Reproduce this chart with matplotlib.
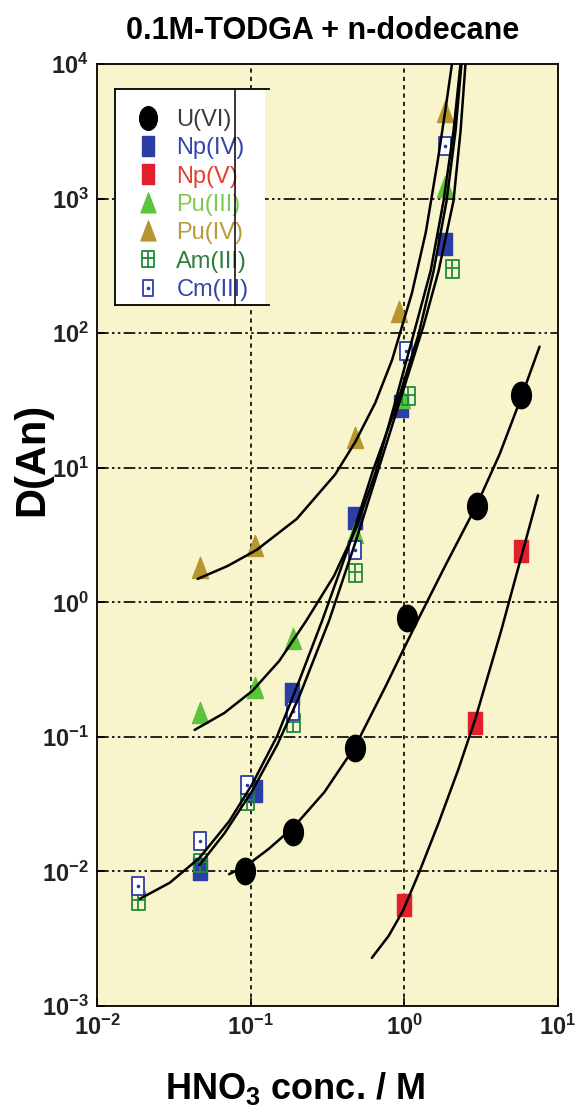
import numpy as np
import matplotlib
matplotlib.use("Agg")
from matplotlib import pyplot as plt
from matplotlib.path import Path
from matplotlib.patches import Rectangle
from matplotlib.transforms import Affine2D
from matplotlib.lines import Line2D

plt.rcParams['font.family'] = ['Liberation Sans', 'DejaVu Sans']
plt.rcParams['mathtext.default'] = 'regular'

# distribution ratios vs. nitric acid concentration
u6_x = [0.092, 0.19, 0.48, 1.04, 2.95, 5.77]
u6_y = [0.0101, 0.0197, 0.083, 0.77, 5.2, 35]
np4_x = [0.0466, 0.107, 0.186, 0.48, 0.95, 1.85]
np4_y = [0.0104, 0.0397, 0.21, 4.2, 28.8, 460]
np5_x = [1.0, 2.9, 5.77]
np5_y = [0.0056, 0.127, 2.4]
pu3_x = [0.0466, 0.106, 0.19, 0.48, 0.965, 1.85]
pu3_y = [0.15, 0.23, 0.53, 3.3, 33, 1220]
pu4_x = [0.0466, 0.106, 0.48, 0.92, 1.85]
pu4_y = [1.8, 2.6, 16.6, 144, 4400]
am3_x = [0.0185, 0.0466, 0.094, 0.189, 0.48, 1.05, 2.03]
am3_y = [0.00605, 0.0116, 0.0335, 0.127, 1.65, 34, 300]
cm3_x = [0.0185, 0.0466, 0.094, 0.189, 0.48, 1.02, 1.85]
cm3_y = [0.0078, 0.0169, 0.044, 0.156, 2.45, 74, 2460]

# fitted curves
fit_u6_x = [0.0724, 0.0933, 0.1318, 0.1905, 0.302, 0.479, 0.759, 1.202, 1.862, 2.951, 4.169, 5.754, 7.586]
fit_u6_y = [0.00955, 0.01096, 0.01479, 0.02138, 0.0389, 0.0851, 0.2399, 0.708, 1.905, 5.248, 12.59, 33.1, 79.4]
fit_np5_x = [0.615, 0.792, 0.977, 1.239, 1.671, 2.254, 2.904, 4.276, 5.768, 7.413]
fit_np5_y = [0.00228, 0.00333, 0.00507, 0.00962, 0.0229, 0.0579, 0.137, 0.619, 2.178, 6.237]
fit_pu4_x = [0.0452, 0.0708, 0.1096, 0.1995, 0.3548, 0.4786, 0.6457, 0.8318, 1.122, 1.380, 1.660, 1.862, 2.042]
fit_pu4_y = [1.493, 1.862, 2.455, 4.169, 8.913, 15.49, 30.2, 63.1, 199.5, 562.3, 1995, 4786, 10000]
fit_pu3_x = [0.0432, 0.0675, 0.1026, 0.1535, 0.2296, 0.3487, 0.4842, 0.643, 0.854, 1.15, 1.483, 1.80, 2.09, 2.321]
fit_pu3_y = [0.1127, 0.1508, 0.2197, 0.3669, 0.7275, 1.571, 3.511, 8.91, 28.2, 98.6, 289.8, 959.8, 3178, 10000]
fit_np4_x = [0.0465, 0.0676, 0.1026, 0.1489, 0.207, 0.3236, 0.4842, 0.6622, 0.9204, 1.337, 1.671, 2.089, 2.323, 2.5]
fit_np4_y = [0.01117, 0.01923, 0.0399, 0.0873, 0.199, 0.728, 2.864, 8.913, 29.51, 114.8, 289.7, 959.4, 3177, 10000]
fit_amcm_x = [0.019, 0.0297, 0.0465, 0.0728, 0.1026, 0.1489, 0.2068, 0.2915, 0.4362, 0.624, 0.8927, 1.24, 1.551, 1.883, 2.154, 2.355]
fit_amcm_y = [0.00626, 0.00823, 0.01262, 0.02376, 0.04476, 0.1017, 0.2606, 0.7275, 2.624, 9.47, 29.51, 98.6, 289.8, 959.8, 3178, 10000]

c_np4 = '#2B3EA6'
c_np5 = '#E2202C'
c_pu3 = '#5CC43C'
c_pu4 = '#B8952E'
c_am3 = '#1F8A3A'
c_cm3 = '#2B3EA6'

# markers are a bit taller than wide
m_circle = Path.unit_circle().transformed(Affine2D().scale(0.75, 1.0))
m_square = Path.unit_rectangle().transformed(Affine2D().translate(-0.5, -0.5).scale(0.62, 1.0))
m_tri = Path([(0, 1), (-0.72, -0.9), (0.72, -0.9), (0, 1)],
             [Path.MOVETO, Path.LINETO, Path.LINETO, Path.CLOSEPOLY])
m_hatch = Path([(-0.36, -0.5), (0.36, -0.5), (0.36, 0.5), (-0.36, 0.5), (-0.36, -0.5),
                (0, -0.5), (0, 0.5), (-0.36, 0.05), (0.36, 0.05)],
               [Path.MOVETO, Path.LINETO, Path.LINETO, Path.LINETO, Path.CLOSEPOLY,
                Path.MOVETO, Path.LINETO, Path.MOVETO, Path.LINETO])

fig = plt.figure(figsize=(5.76, 11.12), dpi=100)
ax = fig.add_axes([0.1684, 0.0953, 0.8003, 0.8471])
ax.set_facecolor('#F8F4CC')
ax.set_xscale('log')
ax.set_yscale('log')
ax.set_xlim(1e-2, 1e1)
ax.set_ylim(1e-3, 1e4)

for yv in [1e-2, 1e-1, 1e0, 1e1, 1e2, 1e3]:
    ax.axhline(yv, color='black', lw=1.2, ls=(0, (7, 2, 1.5, 2, 1.5, 2)), zorder=1)
for xv in [1e-1, 1e0]:
    ax.axvline(xv, color='black', lw=1.2, ls=(0, (2.5, 2.5)), zorder=1)

ax.plot(u6_x, u6_y, ls='none', marker=m_circle, ms=19, color='black', zorder=3)
ax.plot(np4_x, np4_y, ls='none', marker=m_square, ms=16, color=c_np4, zorder=3)
ax.plot(np5_x, np5_y, ls='none', marker=m_square, ms=16, color=c_np5, zorder=3)
ax.plot(pu3_x, pu3_y, ls='none', marker=m_tri, ms=16, color=c_pu3, zorder=3)
ax.plot(pu4_x, pu4_y, ls='none', marker=m_tri, ms=16, color=c_pu4, zorder=3)
ax.plot(am3_x, am3_y, ls='none', marker=m_hatch, ms=13, mfc='none', mec=c_am3, mew=1.3, zorder=3)
ax.plot(cm3_x, cm3_y, ls='none', marker=m_square, ms=13, mfc='white', mec=c_cm3, mew=1.3, zorder=3)
ax.plot(cm3_x, cm3_y, ls='none', marker='o', ms=1.6, color=c_cm3, zorder=3)

for fx, fy in [(fit_u6_x, fit_u6_y), (fit_np5_x, fit_np5_y), (fit_pu4_x, fit_pu4_y),
               (fit_pu3_x, fit_pu3_y), (fit_np4_x, fit_np4_y), (fit_amcm_x, fit_amcm_y)]:
    ax.plot(fx, fy, color='black', lw=1.8, zorder=4, solid_capstyle='round', solid_joinstyle='round')

for s in ax.spines.values():
    s.set_linewidth(1.3)
ax.tick_params(which='major', direction='in', length=6, width=1.2, labelsize=17, pad=6)
ax.tick_params(which='minor', length=0)
ax.set_xticks([1e-2, 1e-1, 1e0, 1e1])
ax.set_yticks([1e-3, 1e-2, 1e-1, 1e0, 1e1, 1e2, 1e3, 1e4])
for lab in ax.get_xticklabels() + ax.get_yticklabels():
    lab.set_fontweight('bold')
    lab.set_color('#222222')

ax.set_xlabel('HNO$_3$ conc. / M', fontsize=26, fontweight='bold')
ax.xaxis.set_label_coords(0.43, -0.068)
ax.set_ylabel('D(An)', fontsize=30, fontweight='bold')
ax.yaxis.set_label_coords(-0.098, 0.58)
fig.text(0.56, 0.972, '0.1M-TODGA + n-dodecane', fontsize=22, fontweight='bold', ha='center', va='center')

# legend panel: white box with its rules, entries on top
box_x0, box_x1, box_y0, box_y1 = 0.039, 0.364, 0.744, 0.9735
ax.add_patch(Rectangle((box_x0, box_y0), box_x1 - box_x0, box_y1 - box_y0,
                       transform=ax.transAxes, facecolor='white', edgecolor='none', zorder=5))
ax.plot([box_x0, box_x0], [box_y0, box_y1], transform=ax.transAxes, color='black', lw=1.3, zorder=7)
ax.plot([box_x0, 0.374], [box_y1, box_y1], transform=ax.transAxes, color='black', lw=1.3, zorder=7)
ax.plot([box_x0, 0.374], [box_y0, box_y0], transform=ax.transAxes, color='black', lw=1.3, zorder=7)
ax.plot([0.299, 0.299], [box_y0, box_y1], transform=ax.transAxes, color='black', lw=1.1, zorder=7)

cm_box = Line2D([], [], ls='none', marker=m_square, ms=12, mfc='white', mec=c_cm3, mew=1.3)
cm_dot = Line2D([], [], ls='none', marker='o', ms=1.6, color=c_cm3)
handles = [
    Line2D([], [], ls='none', marker=m_circle, ms=17, color='black'),
    Line2D([], [], ls='none', marker=m_square, ms=14, color=c_np4),
    Line2D([], [], ls='none', marker=m_square, ms=14, color=c_np5),
    Line2D([], [], ls='none', marker=m_tri, ms=15, color=c_pu3),
    Line2D([], [], ls='none', marker=m_tri, ms=15, color=c_pu4),
    Line2D([], [], ls='none', marker=m_hatch, ms=12, mfc='none', mec=c_am3, mew=1.3),
    (cm_box, cm_dot),
]
labels = ['U(VI)', 'Np(IV)', 'Np(V)', 'Pu(III)', 'Pu(IV)', 'Am(III)', 'Cm(III)']
label_colors = ['#3A3A3A', '#3344AA', '#E0402E', '#7CCB50', '#B89A3C', '#2E7D3C', '#3346A8']
leg = ax.legend(handles, labels, loc='upper left', bbox_to_anchor=(box_x0, box_y1 - 0.006),
                borderaxespad=0, frameon=False, fontsize=17, labelcolor=label_colors,
                handlelength=1.6, handletextpad=0.4, labelspacing=0.27, borderpad=0.6)
leg.set_zorder(6)

plt.savefig('out.png', dpi=100)
